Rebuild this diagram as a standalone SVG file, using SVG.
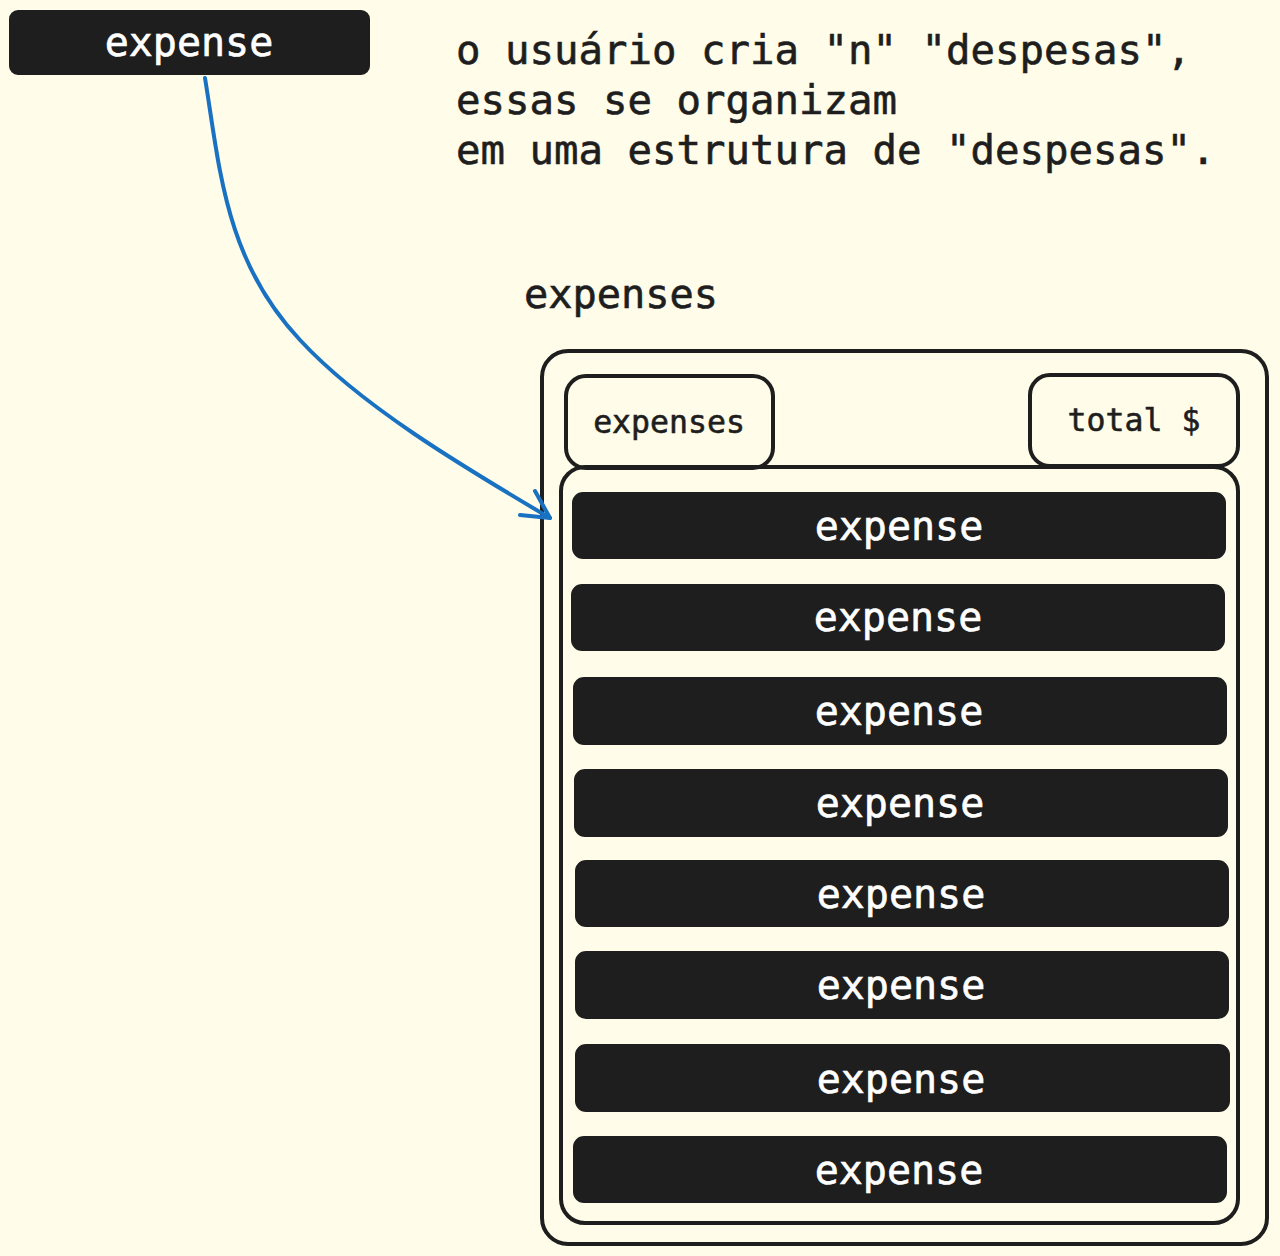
<svg xmlns="http://www.w3.org/2000/svg" width="1280" height="1256" viewBox="0 0 1280 1256">
<style>
.mono{font-family:"DejaVu Sans Mono","Liberation Mono",monospace;fill:#1e1e1e;stroke:#1e1e1e;stroke-width:0.6}
.bar{fill:#1e1e1e;stroke:#1e1e1e;stroke-width:2}
.barText{font-family:"DejaVu Sans Mono","Liberation Mono",monospace;font-size:40px;fill:#ffffff;stroke:#ffffff;stroke-width:0.6;text-anchor:middle}
.box{fill:none;stroke:#1e1e1e;stroke-width:4}
</style>
<rect x="0" y="0" width="1280" height="1256" fill="#fffce9"/>
<g id="expense-source">
<rect class="bar" x="10" y="11" width="359" height="63" rx="8"/>
<text class="barText" x="189" y="56">expense</text>
</g>
<g id="description">
<text class="mono" font-size="40.7" x="456" y="64">o usuário cria "n" "despesas",</text>
<text class="mono" font-size="40.7" x="456" y="114">essas se organizam</text>
<text class="mono" font-size="40.7" x="456" y="164">em uma estrutura de "despesas".</text>
</g>
<g id="expenses-label">
<text class="mono" font-size="40.3" x="524" y="308">expenses</text>
</g>
<g id="container">
<rect class="box" x="542" y="351" width="725" height="893" rx="26"/>
</g>
<g id="header-expenses">
<rect class="box" x="566" y="376" width="207" height="92" rx="20"/>
<text class="mono" font-size="31.5" x="669" y="433" text-anchor="middle">expenses</text>
</g>
<g id="header-total">
<rect class="box" x="1030" y="375" width="208" height="91" rx="20"/>
<text class="mono" font-size="31.5" x="1134" y="431" text-anchor="middle">total $</text>
</g>
<g id="list">
<rect class="box" x="561" y="467" width="677" height="756" rx="24"/>
</g>
<g id="expense-1"><rect class="bar" x="573" y="493" width="652" height="65" rx="10"/><text class="barText" x="899" y="540">expense</text></g>
<g id="expense-2"><rect class="bar" x="572" y="585" width="652" height="65" rx="10"/><text class="barText" x="898" y="631">expense</text></g>
<g id="expense-3"><rect class="bar" x="574" y="678" width="652" height="66" rx="10"/><text class="barText" x="899" y="725">expense</text></g>
<g id="expense-4"><rect class="bar" x="575" y="770" width="652" height="66" rx="10"/><text class="barText" x="900" y="817">expense</text></g>
<g id="expense-5"><rect class="bar" x="576" y="861" width="652" height="65" rx="10"/><text class="barText" x="901" y="908">expense</text></g>
<g id="expense-6"><rect class="bar" x="576" y="952" width="652" height="66" rx="10"/><text class="barText" x="901" y="999">expense</text></g>
<g id="expense-7"><rect class="bar" x="576" y="1045" width="653" height="66" rx="10"/><text class="barText" x="901" y="1093">expense</text></g>
<g id="expense-8"><rect class="bar" x="574" y="1137" width="652" height="65" rx="10"/><text class="barText" x="899" y="1184">expense</text></g>
<g id="connectors" fill="none" stroke="#1971c2" stroke-width="4" stroke-linecap="round" stroke-linejoin="round">
<path d="M205 78 C 220 170, 225 260, 300 340 C 360 405, 460 465, 550 518"/>
<path d="M520 515 L550 518 L535 491"/>
</g>
</svg>
